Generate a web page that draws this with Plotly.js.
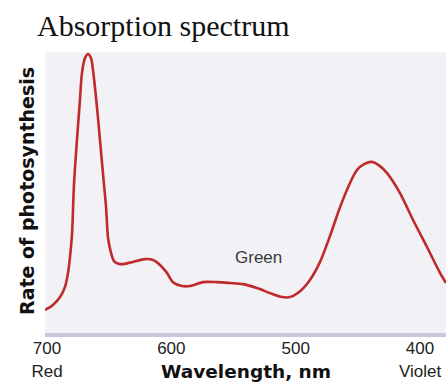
<!DOCTYPE html>
<html>
<head>
<meta charset="utf-8">
<script src="https://cdn.plot.ly/plotly-3.0.1.min.js"></script>
<style>html,body{margin:0;padding:0;background:#fff;}#chart{width:446px;height:383px;}</style>
</head>
<body>
<div id="chart"></div>
<script>
// Wavelength (nm) and relative rate of photosynthesis
const wavelength = [701.6, 695.2, 689.5, 685.5, 683.1, 681.5, 679.9, 678.3, 675.9, 673.5, 671.9, 669.4, 667.0, 664.6, 663.0, 659.8, 657.4, 655.0, 652.5, 650.9, 648.5, 646.1, 642.1, 637.3, 630.8, 621.2, 614.7, 609.1, 603.5, 598.7, 591.4, 585.0, 574.5, 563.3, 552.8, 542.4, 531.1, 520.6, 511.0, 504.6, 496.5, 488.5, 480.4, 472.4, 464.3, 456.3, 450.7, 445.0, 438.6, 432.2, 426.5, 416.1, 405.6, 394.4, 383.9, 379.1];
const rate = [8.2, 10.0, 12.8, 16.4, 21.4, 27.0, 34.9, 52.7, 68.7, 82.9, 92.5, 97.9, 99.3, 97.9, 93.6, 80.4, 68.7, 56.9, 44.8, 33.8, 28.5, 25.6, 24.6, 24.6, 25.3, 26.3, 26.0, 24.2, 21.4, 18.1, 16.7, 16.7, 18.1, 18.1, 17.8, 17.4, 16.0, 14.2, 12.8, 12.8, 14.9, 18.9, 25.3, 34.5, 44.8, 53.4, 58.0, 60.1, 60.9, 59.4, 56.9, 49.8, 40.2, 30.6, 21.4, 17.8];
const tickValues = [700, 600, 500, 400];
const tickLabels = ["700<br>Red", "600", "500", "400<br>Violet"];
const bandLabel = "Green";
const bandLabelPos = [529.5, 26.7];

const trace = {
  x: wavelength,
  y: rate,
  type: 'scatter',
  mode: 'lines',
  line: {color: '#bf2a2a', width: 2.6, shape: 'spline', smoothing: 0.8},
  hoverinfo: 'skip'
};

const layout = {
  width: 446,
  height: 383,
  margin: {l: 45, r: 0, t: 52, b: 50, pad: 0},
  paper_bgcolor: '#ffffff',
  plot_bgcolor: '#f2f1f6',
  showlegend: false,
  title: {
    text: 'Absorption spectrum',
    font: {family: '"Liberation Serif", "Times New Roman", serif', size: 30, color: '#111'},
    x: 37/446, xanchor: 'left', xref: 'container',
    y: 1 - 25/383, yanchor: 'middle', yref: 'container'
  },
  xaxis: {
    range: [701.6, 379.1],
    tickmode: 'array',
    tickvals: tickValues,
    ticktext: tickLabels,
    ticks: '',
    ticklabeloverflow: 'allow',
    ticklabelstandoff: -3,
    showgrid: false,
    zeroline: false,
    showline: true,
    linecolor: '#c6c6dc',
    linewidth: 4,
    tickfont: {family: '"Liberation Sans", Arial, sans-serif', size: 17, color: '#222'},
    fixedrange: true
  },
  yaxis: {
    range: [0, 100],
    showticklabels: false,
    ticks: '',
    showgrid: false,
    zeroline: false,
    showline: false,
    fixedrange: true
  },
  annotations: [
    {
      text: 'Wavelength, nm', xref: 'paper', yref: 'paper',
      x: (246-45)/401, y: (333-372)/281, xanchor: 'center', yanchor: 'middle',
      showarrow: false,
      font: {family: '"DejaVu Sans", sans-serif', size: 18.5, color: '#111', weight: 'bold'}
    },
    {
      text: 'Rate of photosynthesis', xref: 'paper', yref: 'paper',
      x: (27-45)/401, y: (333-191)/281, xanchor: 'center', yanchor: 'middle',
      textangle: -90, showarrow: false,
      font: {family: '"DejaVu Sans", sans-serif', size: 19, color: '#111', weight: 'bold'}
    },
    {
      text: bandLabel, x: bandLabelPos[0], y: bandLabelPos[1],
      xref: 'x', yref: 'y', showarrow: false, xanchor: 'center', yanchor: 'middle',
      font: {family: '"Liberation Sans", Arial, sans-serif', size: 17, color: '#3a3a3a'}
    }
  ]
};

Plotly.newPlot('chart', [trace], layout, {displayModeBar: false, staticPlot: true});
</script>
</body>
</html>
